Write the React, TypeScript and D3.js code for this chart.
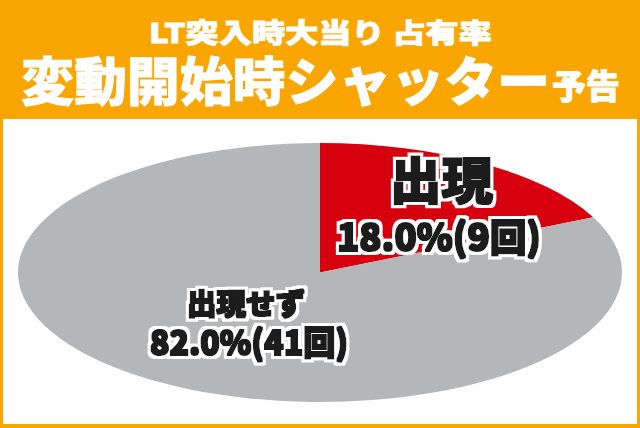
import { useEffect, useRef } from "react";
import * as d3 from "d3";

const categories = ["出現", "出現せず"];
const counts = [9, 41];
const percents = [18.0, 82.0];
const sliceColors = ["#D7000F", "#B5B6B8"];

const titleLine1 = "LT突入時大当り 占有率";
const titleLine2 = "変動開始時シャッター";
const titleSuffix = "予告";

function App() {
  const svgRef = useRef<SVGSVGElement>(null);

  useEffect(() => {
    const svgElement = svgRef.current;
    if (!svgElement) return;

    const W = 640;
    const H = 428;
    const cx = 320;
    const cy = 272.5;
    const rx = 302;
    const ry = 129.5;

    const svg = d3.select(svgElement).attr("width", W).attr("height", H);

    // outline filter: thickens the black glyphs and puts a white halo round them
    const f = svg
      .append("defs")
      .append("filter")
      .attr("id", "outline")
      .attr("x", "-10%")
      .attr("y", "-30%")
      .attr("width", "120%")
      .attr("height", "160%");
    f.append("feMorphology").attr("in", "SourceAlpha").attr("operator", "dilate").attr("radius", 0.6).attr("result", "thick");
    f.append("feMorphology").attr("in", "SourceAlpha").attr("operator", "dilate").attr("radius", 3.5).attr("result", "outer");
    f.append("feFlood").attr("flood-color", "#fff").attr("result", "white");
    f.append("feComposite").attr("in", "white").attr("in2", "outer").attr("operator", "in").attr("result", "halo");
    f.append("feFlood").attr("flood-color", "#1a1a1a").attr("result", "black");
    f.append("feComposite").attr("in", "black").attr("in2", "thick").attr("operator", "in").attr("result", "glyphs");
    const merge = f.append("feMerge");
    merge.append("feMergeNode").attr("in", "halo");
    merge.append("feMergeNode").attr("in", "glyphs");

    // background + white panel
    svg.append("rect").attr("width", W).attr("height", H).attr("fill", "#F9A602");
    svg
      .append("rect")
      .attr("x", 3)
      .attr("y", 119)
      .attr("width", W - 6)
      .attr("height", H - 119 - 4)
      .attr("fill", "#fff");

    // header
    const font = "'Noto Sans CJK JP', 'Noto Sans', sans-serif";
    const header = [
      { text: titleLine1, x: 149, y: 43, size: 27, len: 343 },
      { text: titleLine2, x: 21, y: 101, size: 52, len: 529 },
      { text: titleSuffix, x: 552, y: 99, size: 34, len: 68 },
    ];
    header.forEach((t) => {
      svg
        .append("text")
        .attr("x", t.x)
        .attr("y", t.y)
        .attr("textLength", t.len)
        .attr("lengthAdjust", "spacingAndGlyphs")
        .style("font-family", font)
        .style("font-weight", 900)
        .style("font-size", `${t.size}px`)
        .attr("fill", "#fff")
        .attr("stroke", "#fff")
        .attr("stroke-width", 0.8)
        .text(t.text);
    });

    // pie (circle squashed into ellipse)
    const data = categories.map((c, i) => ({ label: c, value: counts[i], pct: percents[i], color: sliceColors[i] }));
    const pie = d3
      .pie<(typeof data)[number]>()
      .sort(null)
      .value((d) => d.value);
    const arc = d3.arc<d3.PieArcDatum<(typeof data)[number]>>().innerRadius(0).outerRadius(ry);

    svg
      .append("g")
      .attr("transform", `translate(${cx},${cy}) scale(${rx / ry},1)`)
      .selectAll("path")
      .data(pie(data))
      .enter()
      .append("path")
      .attr("d", arc)
      .attr("fill", (d) => d.data.color);

    // labels
    const labels = [
      { text: data[0].label, x: 390, y: 199, size: 50, len: 103 },
      { text: `${data[0].pct.toFixed(1)}%(${data[0].value}回)`, x: 337, y: 251, size: 38, len: 204 },
      { text: data[1].label, x: 187, y: 315, size: 29, len: 118 },
      { text: `${data[1].pct.toFixed(1)}%(${data[1].value}回)`, x: 150, y: 355, size: 34, len: 198 },
    ];

    const lab = svg.append("g");
    labels.forEach((l) => {
      lab
        .append("text")
        .attr("x", l.x)
        .attr("y", l.y)
        .attr("textLength", l.len)
        .attr("lengthAdjust", "spacingAndGlyphs")
        .style("font-family", font)
        .style("font-weight", 900)
        .style("font-size", `${l.size}px`)
        .attr("fill", "#1a1a1a")
        .attr("filter", "url(#outline)")
        .text(l.text);
    });

    return () => {
      d3.select(svgElement).selectAll("*").remove();
    };
  }, []);

  return <svg ref={svgRef} style={{ position: "fixed", left: 0, top: 0 }}></svg>;
}

export default App;
